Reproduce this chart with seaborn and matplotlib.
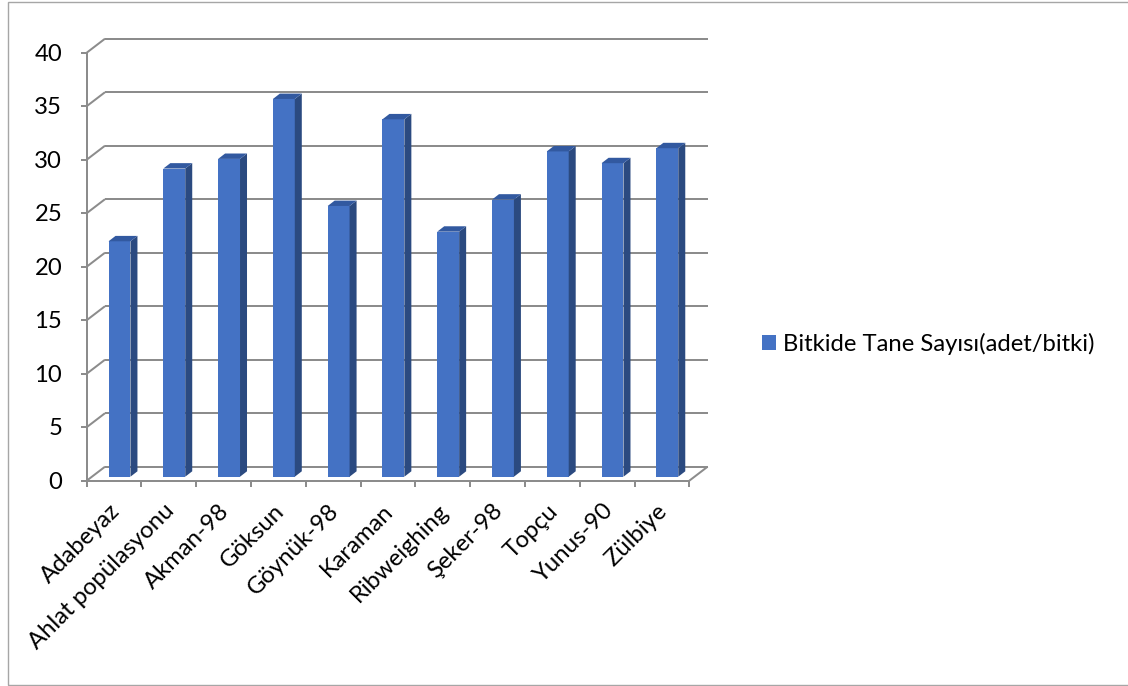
import matplotlib
matplotlib.use("Agg")
import matplotlib.pyplot as plt
import numpy as np
import pandas as pd
import seaborn as sns
from matplotlib.patches import Polygon, Patch, Rectangle
from matplotlib.transforms import ScaledTranslation

# ---- data -------------------------------------------------------------
categories = ["Adabeyaz", "Ahlat popülasyonu", "Akman-98", "Göksun", "Göynük-98",
              "Karaman", "Ribweighing", "Şeker-98", "Topçu", "Yunus-90", "Zülbiye"]
values = [22.0, 28.8, 29.7, 35.3, 25.3, 33.4, 22.9, 25.9, 30.4, 29.3, 30.7]
series_name = "Bitkide Tane Sayısı(adet/bitki)"
y_ticks = [0, 5, 10, 15, 20, 25, 30, 35, 40]

# ---- style ------------------------------------------------------------
sns.set_theme(style="white")
plt.rcParams["font.family"] = ["Lato", "DejaVu Sans"]

FACE = "#4472C4"
SIDE = "#2B4A80"
TOP = "#3259A0"
GRID = "#8C8C8C"
TEXT = "#000000"
FS = 17.2

W, H, DPI = 1128, 686, 100
fig = plt.figure(figsize=(W / DPI, H / DPI), dpi=DPI)
fig.patch.set_facecolor("white")

# axes = plane of the bars' front faces
left_px, right_px, base_px, top_px = 92.1, 694.7, 476.7, 48.7
ax = fig.add_axes([left_px / W, (H - base_px) / H,
                   (right_px - left_px) / W, (base_px - top_px) / H])

df = pd.DataFrame({"variety": categories, "count": values})
sns.barplot(data=df, x="variety", y="count", color=FACE, saturation=1,
            width=0.4, linewidth=0, edgecolor="none", ax=ax, zorder=3)

ax.set_xlim(-0.5, len(categories) - 0.5)
ax.set_ylim(0, 40)
ax.set_axis_off()


def shift(dx, dy):
    """Data transform moved by (dx, dy) pixels (y up)."""
    return ax.transData + ScaledTranslation(dx / DPI, dy / DPI, fig.dpi_scale_trans)


FRONT = (-5.4, -4.0)   # front axis plane relative to bar faces
BACK = (12.9, 10.0)    # back wall relative to bar faces
DEPTH = (7.0, 5.4)     # bar depth

front_tr = shift(*FRONT)
back_tr = shift(*BACK)
x0, x1 = -0.5, len(categories) - 0.5
lw = 2.0 * 72 / DPI


def disp_to_data(pts):
    return ax.transData.inverted().transform(np.asarray(pts))


def line_disp(p, q, **kw):
    d = disp_to_data([p, q])
    ax.plot(d[:, 0], d[:, 1], color=GRID, lw=lw, clip_on=False,
            solid_capstyle="butt", **kw)


# back wall gridlines
for v in y_ticks:
    ax.plot([x0, x1], [v, v], transform=back_tr, color=GRID, lw=lw,
            clip_on=False, zorder=1, solid_capstyle="butt")

# front value axis and category axis
ax.plot([x0, x0], [0, 40], transform=front_tr, color=GRID, lw=lw,
        clip_on=False, zorder=1)
ax.plot([x0, x1], [0, 0], transform=front_tr, color=GRID, lw=lw,
        clip_on=False, zorder=1)

# depth edges: left side at each tick, right corner of the floor
for v in y_ticks:
    p = front_tr.transform((x0, v))
    q = back_tr.transform((x0, v))
    line_disp(p, q, zorder=1)
    # tick marks on the value axis
    line_disp(p, p + np.array([-5.5, 0]), zorder=1)
p = front_tr.transform((x1, 0))
q = back_tr.transform((x1, 0))
line_disp(p, q, zorder=1)

# tick marks on the category axis (between categories)
for b in np.arange(x0, x1 + 0.01, 1.0):
    p = front_tr.transform((b, 0))
    line_disp(p, p + np.array([0, -6.5]), zorder=1)

# side and top faces of the bars
dvec = np.array(DEPTH)
for bar in ax.patches:
    bx, bw, bh = bar.get_x(), bar.get_width(), bar.get_height()
    br = ax.transData.transform((bx + bw, 0))
    tr = ax.transData.transform((bx + bw, bh))
    tl = ax.transData.transform((bx, bh))
    side = disp_to_data([br, tr, tr + dvec, br + dvec])
    top = disp_to_data([tl, tr, tr + dvec, tl + dvec])
    ax.add_patch(Polygon(side, closed=True, facecolor=SIDE, edgecolor="none",
                         clip_on=False, zorder=3))
    ax.add_patch(Polygon(top, closed=True, facecolor=TOP, edgecolor="none",
                         clip_on=False, zorder=3))

# value labels
for v in y_ticks:
    ax.text(x0, v, f"{v}", transform=shift(FRONT[0] - 24.5, FRONT[1] - 1.5),
            ha="right", va="center", fontsize=FS, color=TEXT)

# category labels
for i, c in enumerate(categories):
    ax.text(i, 0, c, transform=shift(FRONT[0] + 2, FRONT[1] - 27),
            rotation=45, rotation_mode="anchor", ha="right", va="center",
            fontsize=FS, color=TEXT)

# legend
ax.legend(handles=[Patch(facecolor=FACE, edgecolor="none", label=series_name)],
          loc="center left", bbox_to_anchor=(761.7 / W, 1 - 343.7 / H),
          bbox_transform=fig.transFigure, frameon=False, fontsize=FS,
          handlelength=0.6, handleheight=0.6, handletextpad=0.3,
          borderpad=0, borderaxespad=0, labelcolor=TEXT)

# chart area border
fig.patches.append(Rectangle((7.5 / W, 1 - 685 / H), (1135 - 7.5) / W, (685 - 1.5) / H,
                             transform=fig.transFigure, fill=False,
                             edgecolor="#A6A6A6", lw=1.0))

fig.savefig("out.png", dpi=DPI, facecolor="white")
